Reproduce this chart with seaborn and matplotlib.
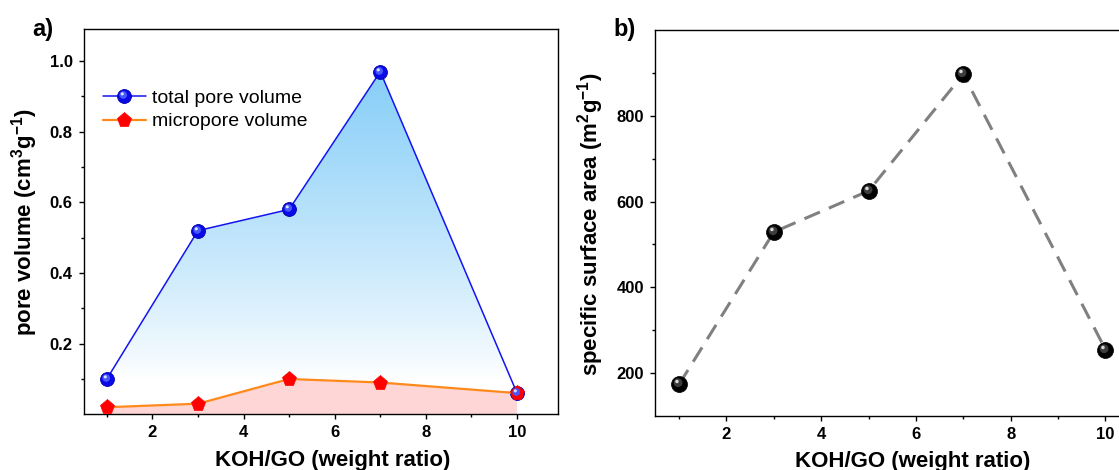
import numpy as np
import matplotlib
matplotlib.use("Agg")
import matplotlib.pyplot as plt
import seaborn as sns
from matplotlib.path import Path
from matplotlib.legend_handler import HandlerTuple
from matplotlib.ticker import FixedLocator

# ---------------- data ----------------
ratio = [1, 3, 5, 7, 10]
total_pore = [0.10, 0.52, 0.58, 0.97, 0.06]
micro_pore = [0.02, 0.03, 0.10, 0.09, 0.06]
ssa = [174, 529, 625, 897, 255]

xticks = [2, 4, 6, 8, 10]
xminor = [1, 3, 5, 7, 9]
yticks_a = [0.2, 0.4, 0.6, 0.8, 1.0]
yminor_a = [0.1, 0.3, 0.5, 0.7, 0.9]
yticks_b = [200, 400, 600, 800]
yminor_b = [300, 500, 700, 900]

labels = ["total pore volume", "micropore volume"]
xlabel = "KOH/GO (weight ratio)"
ylabel_a = r"pore volume (cm$^\mathbf{3}$g$^\mathbf{-1}$)"
ylabel_b = r"specific surface area (m$^\mathbf{2}$g$^\mathbf{-1}$)"

# ---------------- style ----------------
sns.set_style("ticks")
plt.rcParams["font.family"] = ["Liberation Sans", "DejaVu Sans"]
plt.rcParams["mathtext.fontset"] = "custom"
plt.rcParams["mathtext.rm"] = "Liberation Sans"
plt.rcParams["mathtext.bf"] = "Liberation Sans:bold"
plt.rcParams["axes.linewidth"] = 1.0
for k in ["text.color", "axes.labelcolor", "xtick.color", "ytick.color", "axes.edgecolor"]:
    plt.rcParams[k] = "black"


def spot(cx, cy, r):
    c = Path.circle((cx, cy), r)
    verts = np.vstack([c.vertices, [[1.0, 0.0]]])
    codes = np.concatenate([c.codes, [Path.MOVETO]])
    return Path(verts, codes)


hl_mid = spot(-0.18, 0.22, 0.55)
hl_top = spot(-0.32, 0.38, 0.22)

fig = plt.figure(figsize=(11.19, 4.70), dpi=100)
ax1 = fig.add_axes([0.0747, 0.1185, 0.4240, 0.8192])
ax2 = fig.add_axes([0.5853, 0.1149, 0.4407, 0.8211])

# ---------------- panel a ----------------
xlim = (0.49, 10.9)
ylim_a = (0.0, 1.09)

# gradient fill under total pore volume
poly = ax1.fill_between(ratio, total_pore, 0, facecolor="none", edgecolor="none")
ny = 300
yy = np.linspace(0, max(total_pore), ny)
t = np.clip((yy - 0.10) / (max(total_pore) - 0.10), 0, 1) ** 0.85
top_col = np.array([0x86, 0xCE, 0xF8]) / 255.0
rgb = (1 - t)[:, None] * np.ones(3)[None, :] + t[:, None] * top_col[None, :]
img = np.repeat(rgb[:, None, :], 2, axis=1)
im = ax1.imshow(img, extent=[min(ratio), max(ratio), 0, max(total_pore)],
                origin="lower", aspect="auto", zorder=1, interpolation="bilinear")
im.set_clip_path(poly.get_paths()[0], transform=ax1.transData)

ax1.fill_between(ratio, micro_pore, 0, facecolor="#FFD6D6", edgecolor="none", zorder=1.5)

sns.lineplot(x=ratio, y=total_pore, ax=ax1, color="#1414F0", lw=1.1,
             marker="o", markersize=10, markerfacecolor="#0A0AE6",
             markeredgecolor="#0000B0", markeredgewidth=0.6, zorder=3,
             label=labels[0], legend=False)
ln_total = ax1.get_lines()[-1]
h1 = ax1.plot(ratio, total_pore, ls="none", marker=hl_mid, markersize=10,
              markerfacecolor="#4858FF", markeredgewidth=0, zorder=3.1)[0]
h2 = ax1.plot(ratio, total_pore, ls="none", marker=hl_top, markersize=10,
              markerfacecolor="#DCE4FF", markeredgewidth=0, zorder=3.2)[0]

sns.lineplot(x=ratio, y=micro_pore, ax=ax1, color="#FF8A1C", lw=1.6,
             marker="p", markersize=11, markerfacecolor="#FF0000",
             markeredgecolor="#FF0000", markeredgewidth=0.5, zorder=3,
             label=labels[1], legend=False)
ln_micro = ax1.get_lines()[-1]

ax1.set_xlim(*xlim)
ax1.set_ylim(*ylim_a)
ax1.xaxis.set_major_locator(FixedLocator(xticks))
ax1.xaxis.set_minor_locator(FixedLocator(xminor))
ax1.yaxis.set_major_locator(FixedLocator(yticks_a))
ax1.yaxis.set_minor_locator(FixedLocator(yminor_a))
ax1.set_yticklabels([f"{v:.1f}" for v in yticks_a])

leg = ax1.legend([(ln_total, h1, h2), ln_micro], labels,
                 handler_map={tuple: HandlerTuple(ndivide=1, pad=0)},
                 loc="upper left", bbox_to_anchor=(0.040, 0.845),
                 frameon=False, fontsize=14, handlelength=2.25,
                 handletextpad=0.3, labelspacing=0.32, borderpad=0,
                 borderaxespad=0)

# ---------------- panel b ----------------
sns.lineplot(x=ratio, y=ssa, ax=ax2, color="#808080", lw=2.2,
             dashes=False, zorder=2, legend=False)
ax2.get_lines()[-1].set_dashes([5.5, 3.2])
ax2.plot(ratio, ssa, ls="none", marker="o", markersize=11.5,
         markerfacecolor="#000000", markeredgecolor="#000000",
         markeredgewidth=0.5, zorder=3)
ax2.plot(ratio, ssa, ls="none", marker=hl_mid, markersize=11.5,
         markerfacecolor="#3C3C3C", markeredgewidth=0, zorder=3.1)
ax2.plot(ratio, ssa, ls="none", marker=hl_top, markersize=11.5,
         markerfacecolor="#D8D8D8", markeredgewidth=0, zorder=3.2)

ax2.set_xlim(*xlim)
ax2.set_ylim(100, 1000)
ax2.xaxis.set_major_locator(FixedLocator(xticks))
ax2.xaxis.set_minor_locator(FixedLocator(xminor))
ax2.yaxis.set_major_locator(FixedLocator(yticks_b))
ax2.yaxis.set_minor_locator(FixedLocator(yminor_b))

# ---------------- common formatting ----------------
for ax, ylab, lx, ly in [(ax1, ylabel_a, -0.092, 0.5), (ax2, ylabel_b, -0.099, 0.497)]:
    for s in ax.spines.values():
        s.set_visible(True)
        s.set_linewidth(1.0)
        s.set_color("black")
    ax.tick_params(which="major", direction="out", length=3.8, width=1.0,
                   labelsize=12, pad=4.0, top=False, right=False, colors="black")
    ax.tick_params(which="minor", direction="out", length=2.2, width=1.0,
                   top=False, right=False, colors="black")
    for lab in ax.get_xticklabels() + ax.get_yticklabels():
        lab.set_fontweight("bold")
    ax.set_xlabel(xlabel, fontsize=16, fontweight="bold", color="black")
    ax.set_ylabel(ylab, fontsize=16, fontweight="bold", color="black")
    ax.yaxis.set_label_coords(lx, ly)
    ax.grid(False)

ax1.xaxis.set_label_coords(0.526, -0.092)
ax2.xaxis.set_label_coords(0.523, -0.090)

fig.text(32 / 1119, 1 - 18 / 470, "a)", fontsize=17, fontweight="bold", va="top", ha="left")
fig.text(613 / 1119, 1 - 18 / 470, "b)", fontsize=17, fontweight="bold", va="top", ha="left")

fig.savefig("out.png", dpi=100)
